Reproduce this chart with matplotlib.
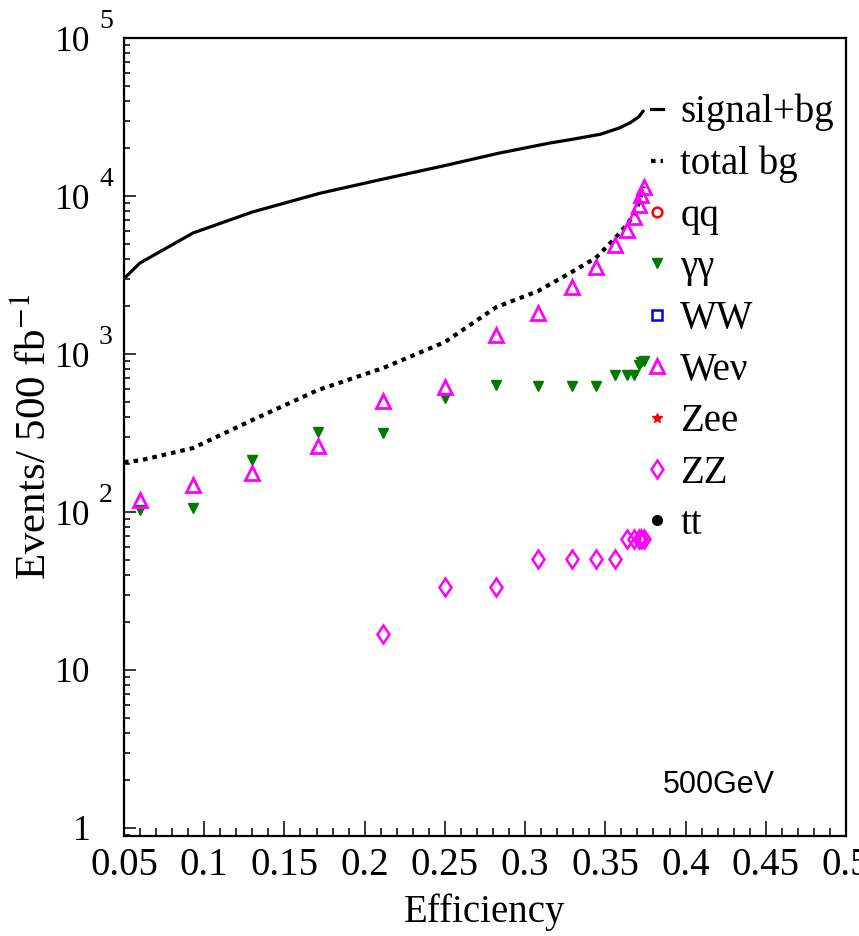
import numpy as np
import matplotlib
matplotlib.use("Agg")
import matplotlib.pyplot as plt
from matplotlib.lines import Line2D
from matplotlib.ticker import FixedLocator, NullFormatter, LogLocator, MultipleLocator

plt.rcParams['font.family'] = ['Liberation Serif', 'DejaVu Serif']
plt.rcParams['mathtext.fontset'] = 'stix'

# Selection-cut efficiencies at which each background is evaluated
efficiency = [0.060, 0.093, 0.130, 0.171, 0.2115, 0.250, 0.282, 0.308,
              0.329, 0.344, 0.356, 0.3635, 0.368, 0.371, 0.3725, 0.374]

# Background event counts per channel (nan = no events left)
wev_events = [119, 148, 177, 262, 504, 618, 1320, 1815,
              2655, 3555, 4900, 6100, 7370, 8770, 10150, 11400]
gg_events = [103, 106, 213, 321, 316, 527, 637, 627,
             627, 627, 736, 736, 736, 851, 890, 900]
zz_events = [np.nan, np.nan, np.nan, np.nan, 16.8, 33.6, 33.6, 50.4,
             50.4, 50.4, 50.4, 67.2, 67.2, 67.2, 67.2, 67.2]

# Summed curves
sig_eff = [0.050, 0.060, 0.093, 0.130, 0.172, 0.2115, 0.249, 0.284,
           0.315, 0.330, 0.347, 0.359, 0.366, 0.371, 0.3736]
sig_events = [3000, 3770, 5830, 7920, 10400, 12800, 15500, 18700,
              21600, 22900, 24600, 27000, 29300, 31800, 34500]
bg_eff = [0.050, 0.060, 0.093, 0.130, 0.171, 0.2115, 0.250, 0.282, 0.308,
          0.329, 0.344, 0.356, 0.3635, 0.368, 0.371, 0.3725, 0.374]
bg_events = [207, 212, 254, 382, 592, 815, 1190, 1980, 2500,
             3300, 4050, 5400, 6600, 7700, 9100, 10200, 11500]

x_ticks = [0.05, 0.10, 0.15, 0.20, 0.25, 0.30, 0.35, 0.40, 0.45, 0.50]
x_tick_labels = ['0.05', '0.1', '0.15', '0.2', '0.25', '0.3', '0.35', '0.4', '0.45', '0.5']
y_exponents = [0, 1, 2, 3, 4, 5]

MAGENTA = '#ff00ff'
GREEN = '#007a00'
BG_DASH = (0, (1.1, 1.2))

fig = plt.figure(figsize=(8.59, 9.36), dpi=100)
ax = fig.add_axes([124 / 859, 1 - 836 / 936, 722 / 859, 798 / 936])

ax.set_xlim(0.05, 0.5)
ax.set_yscale('log')
ax.set_ylim(10 ** (-8 / 158), 1e5)

# curves
ax.plot(sig_eff, sig_events, color='black', lw=2.3, solid_capstyle='round', zorder=3)
ax.plot(bg_eff, bg_events, color='black', lw=3.0, ls=BG_DASH,
        dash_capstyle='butt', zorder=3)

# channel markers
ax.plot(efficiency, gg_events, ls='none', marker='v', ms=7.5, color=GREEN,
        mec=GREEN, zorder=4)
ax.plot(efficiency, wev_events, ls='none', marker='^', ms=10.5, mfc='none',
        mec=MAGENTA, mew=2.0, zorder=5)
ax.plot(efficiency, zz_events, ls='none', marker='d', ms=9.5, mfc='none',
        mec=MAGENTA, mew=1.8, zorder=5)

# axes styling
for sp in ax.spines.values():
    sp.set_linewidth(1.6)

ax.xaxis.set_major_locator(FixedLocator(x_ticks))
ax.set_xticklabels(x_tick_labels)
ax.xaxis.set_minor_locator(MultipleLocator(0.01))

ax.yaxis.set_major_locator(FixedLocator([10.0 ** e for e in y_exponents]))
ax.set_yticklabels(['1' if e == 0 else '10' for e in y_exponents])
ax.yaxis.set_minor_locator(LogLocator(base=10, subs=np.arange(2, 10)))
ax.yaxis.set_minor_formatter(NullFormatter())

ax.tick_params(axis='both', which='both', direction='in', top=False, right=False,
               width=1.1)
ax.tick_params(axis='x', which='major', length=10.5, pad=8, labelsize=28)
ax.tick_params(axis='x', which='minor', length=5.5)
ax.tick_params(axis='y', which='major', length=8.6, pad=24, labelsize=25.5)
ax.tick_params(axis='y', which='minor', length=4.3)

# exponents on the decade labels
for e in y_exponents:
    if e >= 2:
        ax.annotate(str(e), xy=(0, 10.0 ** e), xycoords=('axes fraction', 'data'),
                    xytext=(-18, 12), textcoords='offset points',
                    ha='left', va='center', fontsize=20)

ax.set_xlabel('Efficiency', fontsize=28, va='center')
ax.xaxis.set_label_coords(0.5, -0.096)
ax.set_ylabel(r'Events/ 500 fb$^{-1}$', fontsize=31, va='baseline')
ax.yaxis.set_label_coords(-0.108, 0.5)

ax.text(0.7465, 0.054, '500GeV', transform=ax.transAxes, fontsize=22,
        family=['Liberation Sans', 'DejaVu Sans'], ha='left', va='baseline')

# legend
handles = [
    Line2D([], [], color='black', lw=2.3),
    Line2D([], [], color='black', lw=3.0, ls=BG_DASH),
    Line2D([], [], ls='none', marker='o', ms=7, mfc='none', mec='red', mew=1.8),
    Line2D([], [], ls='none', marker='v', ms=7.5, color=GREEN),
    Line2D([], [], ls='none', marker='s', ms=7, mfc='none', mec='blue', mew=1.8),
    Line2D([], [], ls='none', marker='^', ms=10.5, mfc='none', mec=MAGENTA, mew=2.0),
    Line2D([], [], ls='none', marker='*', ms=7, color='red'),
    Line2D([], [], ls='none', marker='d', ms=9.5, mfc='none', mec=MAGENTA, mew=1.8),
    Line2D([], [], ls='none', marker='o', ms=7, color='black'),
]
labels = ['signal+bg', 'total bg', 'qq', 'γγ', 'WW', 'Weν', 'Zee', 'ZZ', 'tt']
ax.legend(handles, labels, loc='upper left', bbox_to_anchor=(0.730, 0.930),
          frameon=False, fontsize=28, handlelength=0.3, handletextpad=0.45,
          borderpad=0, borderaxespad=0, labelspacing=0.37, numpoints=1)

fig.savefig('out.png', dpi=100)
